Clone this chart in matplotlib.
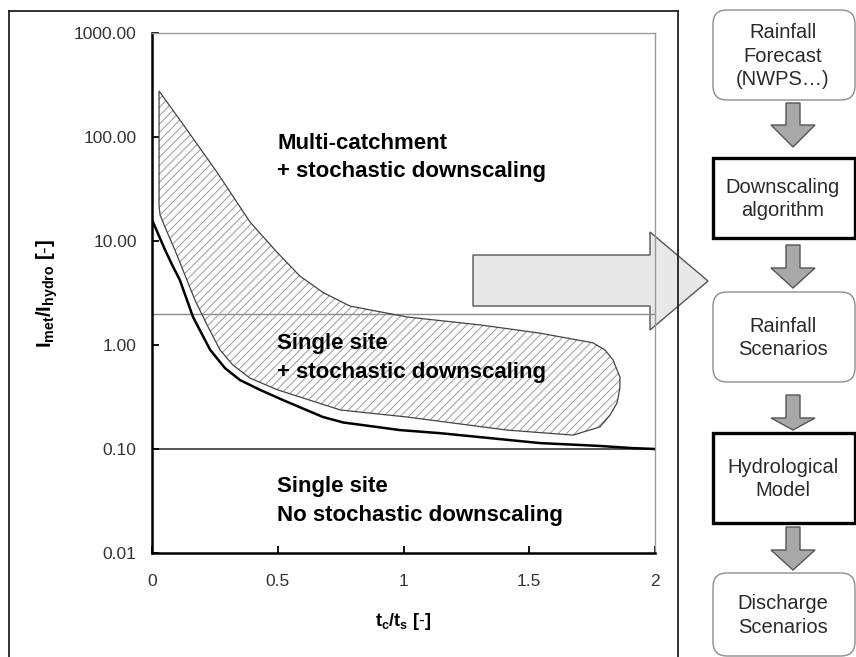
import matplotlib
matplotlib.use("Agg")
import matplotlib.pyplot as plt
from matplotlib.patches import Polygon, FancyBboxPatch, Rectangle
from matplotlib.lines import Line2D

plt.rcParams['font.family'] = ['Liberation Sans', 'DejaVu Sans']
plt.rcParams['mathtext.fontset'] = 'custom'
plt.rcParams['mathtext.rm'] = 'Liberation Sans'
plt.rcParams['mathtext.bf'] = 'Liberation Sans:bold'
plt.rcParams['mathtext.it'] = 'Liberation Sans:italic'
plt.rcParams['hatch.linewidth'] = 0.7

# ---- data ----
curve_x = [0.004, 0.052, 0.08, 0.111, 0.163, 0.231, 0.29, 0.35, 0.43, 0.52, 0.68, 0.76, 0.986, 1.145, 1.543, 1.78, 1.91, 2.0]
curve_y = [15.2, 8.2, 5.9, 4.2, 1.86, 0.9, 0.6, 0.46, 0.37, 0.296, 0.203, 0.18, 0.152, 0.142, 0.114, 0.107, 0.102, 0.100]

zone_x = [0.028, 0.123, 0.258, 0.39, 0.497, 0.588, 0.68, 0.787, 1.014, 1.304, 1.543, 1.753, 1.80, 1.833, 1.861, 1.86, 1.849, 1.82, 1.781, 1.674,
          1.412, 1.014, 0.75, 0.5, 0.39, 0.322, 0.27, 0.219, 0.171, 0.131, 0.091, 0.06, 0.032, 0.028]
zone_y = [277, 133, 46, 15.2, 7.8, 4.6, 3.2, 2.37, 1.86, 1.56, 1.30, 1.05, 0.90, 0.72, 0.49, 0.38, 0.277, 0.21, 0.163, 0.136,
          0.152, 0.203, 0.237, 0.37, 0.48, 0.64, 0.9, 1.56, 2.7, 4.7, 8.2, 12.2, 17.8, 22]

hline_low = 0.1
hline_high = 2.0

y_ticks = [0.01, 0.1, 1, 10, 100, 1000]
y_ticklabels = ['0.01', '0.10', '1.00', '10.00', '100.00', '1000.00']
x_ticks = [0, 0.5, 1, 1.5, 2]
x_ticklabels = ['0', '0.5', '1', '1.5', '2']

zone_labels = ["Multi-catchment\n+ stochastic downscaling",
               "Single site\n+ stochastic downscaling",
               "Single site\nNo stochastic downscaling"]
zone_label_pos = [(0.498, 64), (0.498, 0.75), (0.498, 0.0316)]

flow_texts = ["Rainfall\nForecast\n(NWPS\u2026)", "Downscaling\nalgorithm", "Rainfall\nScenarios",
              "Hydrological\nModel", "Discharge\nScenarios"]

W, H = 856, 657
fig = plt.figure(figsize=(W / 100, H / 100), dpi=100)

# overlay in pixel coordinates (behind main axes)
ov = fig.add_axes([0, 0, 1, 1], zorder=0)
ov.set_xlim(0, W)
ov.set_ylim(H, 0)
ov.axis('off')

# main axes
ax = fig.add_axes([152 / W, 1 - 553 / H, (655 - 152) / W, (553 - 33) / H], zorder=1)
ax.patch.set_alpha(0)
ax.set_yscale('log')
ax.set_xlim(0, 2)
ax.set_ylim(0.01, 1000)

# hatched zone
ax.add_patch(Polygon(list(zip(zone_x, zone_y)), closed=True, facecolor='none',
                     edgecolor='#9a9a9a', hatch='////', linewidth=0, zorder=2))
ax.add_patch(Polygon(list(zip(zone_x, zone_y)), closed=True, facecolor='none',
                     edgecolor='#444444', linewidth=0.9, zorder=3))

ax.axhline(hline_high, color='#8a8a8a', lw=1.0, zorder=1)
ax.axhline(hline_low, color='#555555', lw=1.4, zorder=1)
ax.plot(curve_x, curve_y, color='black', lw=1.8, zorder=4)

for (tx, ty), s in zip(zone_label_pos, zone_labels):
    ax.text(tx, ty, s, fontsize=16, fontweight='bold', ha='left', va='center',
            linespacing=1.45, zorder=5)

ax.set_yticks(y_ticks)
ax.set_yticklabels(y_ticklabels)
ax.set_xticks(x_ticks)
ax.set_xticklabels(x_ticklabels)
ax.minorticks_off()
ax.tick_params(axis='both', direction='in', length=5, width=1.3, labelsize=12.5,
               labelcolor='#333333', color='black')
ax.tick_params(axis='y', pad=11)
ax.tick_params(axis='x', pad=15)

for s in ['left', 'bottom']:
    ax.spines[s].set_linewidth(1.8)
    ax.spines[s].set_color('black')
for s in ['top', 'right']:
    ax.spines[s].set_linewidth(1.0)
    ax.spines[s].set_color('#999999')

ax.set_xlabel(r'$\mathbf{t_c/t_s\ [\text{-}]}$', fontsize=13, labelpad=16)
ax.set_ylabel(r'$\mathbf{I_{met}/I_{hydro}\ [\text{-}]}$', fontsize=14.5, labelpad=10)

# big arrow (pixel coords)
big_arrow = [(473, 255), (650, 255), (650, 232), (708, 281), (650, 330), (650, 306), (473, 306)]
ov.add_patch(Polygon(big_arrow, closed=True, facecolor='#e8e8e8', edgecolor='#555555', lw=1.0, zorder=1))

# outer frame
ov.add_line(Line2D([9, 9], [H, 11], color='#222222', lw=1.3, zorder=3))
ov.add_line(Line2D([9, 678], [11, 11], color='#222222', lw=1.3, zorder=3))
ov.add_line(Line2D([678, 678], [11, H], color='#222222', lw=1.3, zorder=3))

# flowchart boxes
box_tops = [10, 158, 292, 433, 573]
box_bots = [100, 238, 382, 523, 656]
box_kind = ['round', 'square', 'round', 'square', 'round']
bx0, bx1 = 713, 855
for t, b, k, s in zip(box_tops, box_bots, box_kind, flow_texts):
    if k == 'round':
        ov.add_patch(FancyBboxPatch((bx0, t), bx1 - bx0, b - t,
                                    boxstyle='round,pad=0,rounding_size=14',
                                    facecolor='white', edgecolor='#8c8c8c', lw=1.0, zorder=2))
    else:
        ov.add_patch(Rectangle((bx0, t), bx1 - bx0, b - t, facecolor='white',
                               edgecolor='black', lw=2.4, zorder=2))
    ov.text((bx0 + bx1) / 2 - 1, (t + b) / 2 + 1, s, ha='center', va='center', fontsize=14.5,
            color='#2a2a2a', linespacing=1.3, zorder=3)

# down arrows
arrows = [(103, 125, 147), (245, 268, 288), (395, 418, 430), (527, 550, 570)]
cx = 793
for top, base, tip in arrows:
    pts = [(cx - 7, top), (cx + 7, top), (cx + 7, base), (cx + 22, base), (cx, tip),
           (cx - 22, base), (cx - 7, base)]
    ov.add_patch(Polygon(pts, closed=True, facecolor='#a8a8a8', edgecolor='#555555', lw=1.0, zorder=2))

fig.savefig('out.png', dpi=100)
